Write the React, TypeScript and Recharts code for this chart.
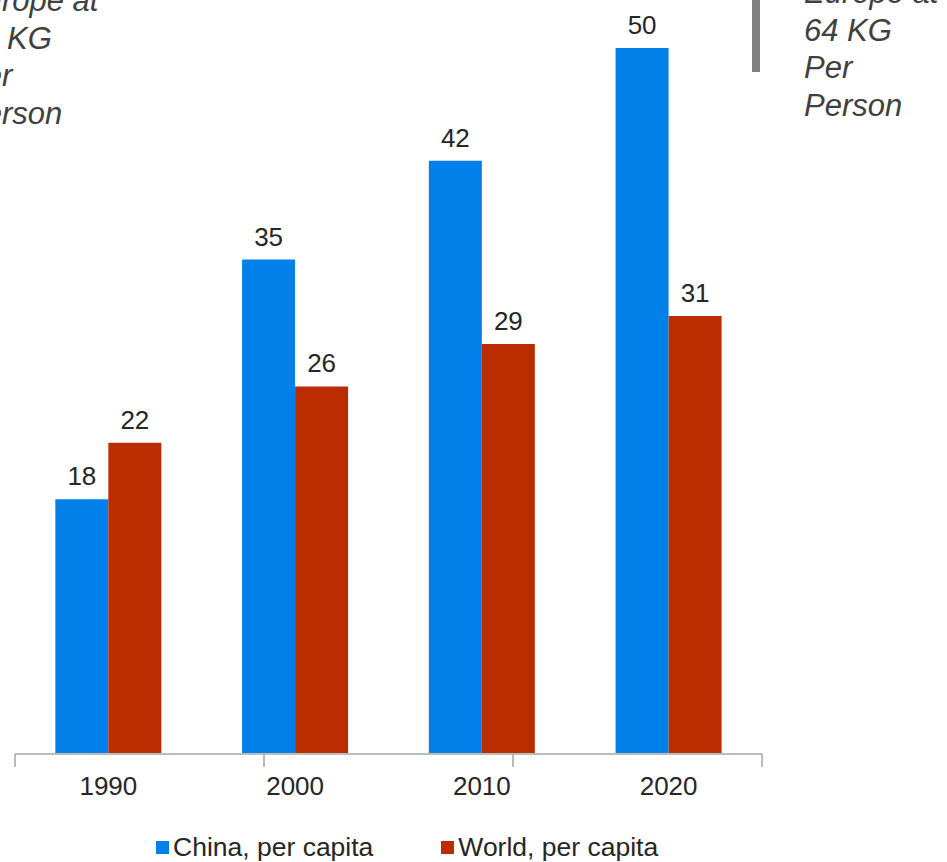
import { BarChart, Bar, XAxis, YAxis, LabelList, Legend } from 'recharts';

const years = ['1990', '2000', '2010', '2020'];
const china = [18, 35, 42, 50];
const world = [22, 26, 29, 31];
const edgeTicks = [0, 1, 2, 3, 4];
const noteLines = ['Europe at', '64 KG', 'Per', 'Person'];

const BLUE = '#0080E8';
const RED = '#BB2D00';
const FONT = '"Liberation Sans", Arial, sans-serif';

const data = years.map((y, i) => ({ year: y, china: china[i], world: world[i] }));

const legendItems = [
  { label: 'China, per capita', color: BLUE },
  { label: 'World, per capita', color: RED },
];

function LegendContent() {
  return (
    <div style={{ display: 'flex', height: 34, alignItems: 'center', fontFamily: FONT, fontSize: 26.5, color: '#262626' }}>
      {legendItems.map((it, i) => (
        <div key={it.label} style={{ display: 'flex', alignItems: 'center', marginRight: i === 0 ? 68 : 0 }}>
          <span style={{ width: 13, height: 13, background: it.color, display: 'inline-block', marginRight: 4 }} />
          <span>{it.label}</span>
        </div>
      ))}
    </div>
  );
}

function Note({ left, top }: { left: number; top: number }) {
  return (
    <div
      style={{
        position: 'absolute', left, top, fontFamily: FONT, fontStyle: 'italic',
        fontSize: 31, lineHeight: '37.5px', color: '#404040', whiteSpace: 'nowrap',
      }}
    >
      {noteLines.map((l) => (
        <div key={l}>{l}</div>
      ))}
    </div>
  );
}

export default function App() {
  return (
    <div style={{ position: 'absolute', left: 0, top: 0, width: 947, height: 862, overflow: 'hidden', background: '#fff' }}>
      <BarChart
        width={947}
        height={862}
        data={data}
        margin={{ top: 48, right: 185, bottom: 73, left: 15 }}
        barCategoryGap="21.6%"
        barGap={0}
      >
        <XAxis
          xAxisId="edge"
          type="number"
          domain={[0, 4]}
          allowDataOverflow
          ticks={edgeTicks}
          tickFormatter={() => ''}
          height={1}
          tickSize={13}
          stroke="#a6a6a6"
          axisLine={{ stroke: '#a6a6a6', strokeWidth: 1.5 }}
          tickLine={{ stroke: '#a6a6a6', strokeWidth: 1.5 }}
        />
        <XAxis
          dataKey="year"
          height={1}
          axisLine={false}
          tickLine={false}
          tickSize={0}
          tickMargin={24}
          tick={{ fill: '#262626', fontSize: 26, fontFamily: FONT }}
        />
        <YAxis hide domain={[0, 50]} />
        <Legend
          content={<LegendContent />}
          wrapperStyle={{ position: 'absolute', left: 156, top: 830, width: 'auto' }}
        />
        <Bar dataKey="china" name="China, per capita" fill={BLUE} isAnimationActive={false}>
          <LabelList dataKey="china" position="top" offset={14} fill="#262626" fontSize={26} fontFamily={FONT} />
        </Bar>
        <Bar dataKey="world" name="World, per capita" fill={RED} isAnimationActive={false}>
          <LabelList dataKey="world" position="top" offset={14} fill="#262626" fontSize={26} fontFamily={FONT} />
        </Bar>
      </BarChart>
      <Note left={-36} top={-18} />
      <Note left={804} top={-26} />
      <div style={{ position: 'absolute', left: 752, top: 0, width: 8, height: 72, background: '#808080' }} />
    </div>
  );
}
